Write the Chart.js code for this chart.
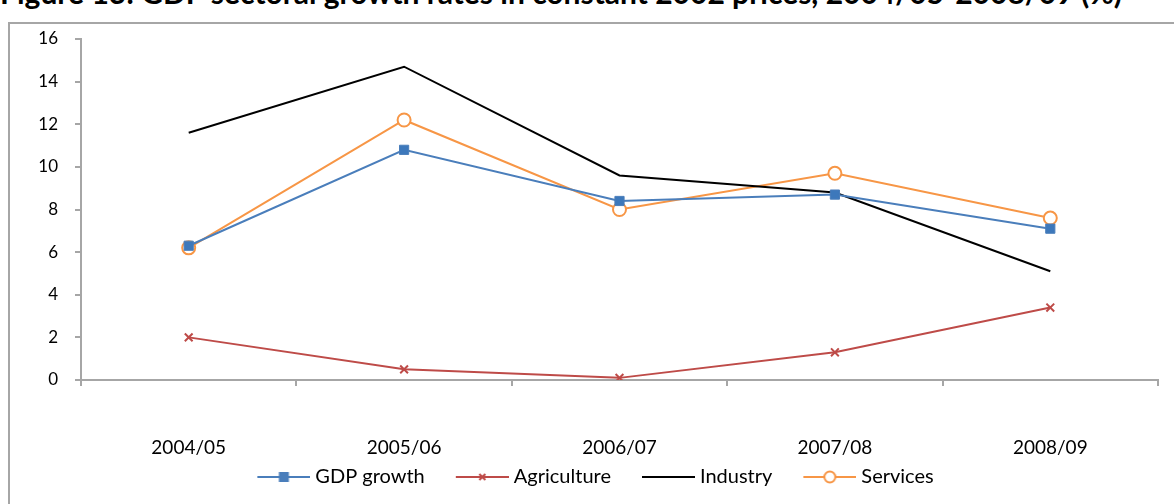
<!DOCTYPE html>
<html>
<head>
<meta charset="utf-8">
<script src="https://cdn.jsdelivr.net/npm/chart.js@4.4.1/dist/chart.umd.min.js"></script>
<style>
  body { margin: 0; background: #fff; overflow: hidden; width: 1174px; height: 504px; position: relative; }
  #title { position: absolute; left: 0; top: -26px; white-space: nowrap; font: bold 30px Lato, sans-serif; color: #000; }
  #frame { position: absolute; left: 8px; top: 22px; width: 1180px; height: 500px; border-left: 2px solid #a6a6a6; border-top: 2px solid #a6a6a6; }
  #wrap { position: absolute; left: 10px; top: 24px; width: 1164px; height: 480px; }
</style>
</head>
<body>
<div id="title">Figure 13: GDP sectoral growth rates in constant 2002 prices, 2004/05-2008/09 (%)</div>
<div id="frame"></div>
<div id="wrap"><canvas id="myChart"></canvas></div>
<script>
let labels = ["2004/05", "2005/06", "2006/07", "2007/08", "2008/09"];
let gdpGrowth = [6.3, 10.8, 8.4, 8.7, 7.1];
let agriculture = [2.0, 0.5, 0.1, 1.3, 3.4];
let industry = [11.6, 14.7, 9.6, 8.8, 5.1];
let services = [6.2, 12.2, 8.0, 9.7, 7.6];

let axisColor = "#a6a6a6";

// legend box: blank gap on the left, then a 53px line with the marker,
// canvas is wider than the box so the line sits close to the text
let gapBefore = 23;
let iconBox = 48 + gapBefore;
function legendIcon(color, style, fill) {
  let c = document.createElement("canvas");
  c.width = iconBox + 10;
  c.height = 14;
  let g = c.getContext("2d");
  let x0 = c.width - 53;
  g.strokeStyle = color;
  g.lineWidth = 2;
  g.beginPath();
  g.moveTo(x0, 7);
  g.lineTo(x0 + 53, 7);
  g.stroke();
  let mx = x0 + 26.5;
  if (style === "rect") {
    g.fillStyle = color;
    g.fillRect(mx - 5, 2, 10, 10);
  } else if (style === "crossRot") {
    g.beginPath();
    g.moveTo(mx - 3, 4); g.lineTo(mx + 3, 10);
    g.moveTo(mx + 3, 4); g.lineTo(mx - 3, 10);
    g.stroke();
  } else if (style === "circle") {
    g.fillStyle = fill;
    g.beginPath();
    g.arc(mx, 7, 5.5, 0, Math.PI * 2);
    g.fill();
    g.stroke();
  }
  return c;
}

let ctx = document.getElementById("myChart").getContext("2d");
let myChart = new Chart(ctx, {
  type: "line",
  data: {
    labels: labels,
    datasets: [
      {
        label: "GDP growth",
        data: gdpGrowth,
        borderColor: "#4a7ebb",
        backgroundColor: "#3d78bb",
        borderWidth: 2,
        pointStyle: "rect",
        pointRadius: 6.5,
        pointBorderWidth: 1,
        icon: legendIcon("#4a7ebb", "rect"),
      },
      {
        label: "Agriculture",
        data: agriculture,
        borderColor: "#be4b48",
        backgroundColor: "#be4b48",
        borderWidth: 2,
        pointStyle: "crossRot",
        pointRadius: 5.5,
        pointBorderWidth: 2,
        icon: legendIcon("#be4b48", "crossRot"),
      },
      {
        label: "Industry",
        data: industry,
        borderColor: "#000000",
        backgroundColor: "#000000",
        borderWidth: 2,
        pointRadius: 0,
        icon: legendIcon("#000000", "none"),
      },
      {
        label: "Services",
        data: services,
        borderColor: "#f79646",
        backgroundColor: "#ffffff",
        borderWidth: 2,
        pointStyle: "circle",
        pointRadius: 6.5,
        pointBorderWidth: 2,
        icon: legendIcon("#f79646", "circle", "#ffffff"),
      },
    ],
  },
  options: {
    responsive: true,
    maintainAspectRatio: false,
    animation: false,
    layout: { padding: { top: 15, right: 16, left: 0, bottom: 7 } },
    scales: {
      x: {
        offset: true,
        border: { color: axisColor, width: 2 },
        grid: {
          offset: true,
          drawOnChartArea: false,
          color: axisColor,
          lineWidth: 2,
          tickLength: 6,
        },
        ticks: { color: "#000", font: { family: "Lato, sans-serif", size: 19 }, padding: 50, maxRotation: 0 },
        afterFit: (scale) => {
          scale.height = 79;
        },
      },
      y: {
        min: 0,
        max: 16,
        border: { color: axisColor, width: 2 },
        grid: {
          drawOnChartArea: false,
          color: axisColor,
          lineWidth: 2,
          tickLength: 6,
        },
        ticks: { stepSize: 2, color: "#000", font: { family: "Lato, sans-serif", size: 17 }, padding: 17 },
        afterFit: (scale) => {
          // fixed width, and don't let the tick padding push the top down
          scale.width = 71;
          scale.paddingTop = 0;
          scale.paddingBottom = 0;
        },
      },
    },
    plugins: {
      tooltip: { enabled: false },
      legend: {
        position: "bottom",
        labels: {
          color: "#000",
          font: { family: "Lato, sans-serif", size: 20 },
          usePointStyle: true,
          pointStyleWidth: iconBox,
          padding: 8,
          generateLabels: (chart) => {
            return chart.data.datasets.map((ds, i) => {
              return {
                text: ds.label,
                pointStyle: ds.icon,
                fontColor: "#000",
                lineWidth: 0,
                strokeStyle: "transparent",
                fillStyle: "transparent",
                datasetIndex: i,
              };
            });
          },
        },
      },
    },
  },
});
</script>
</body>
</html>
